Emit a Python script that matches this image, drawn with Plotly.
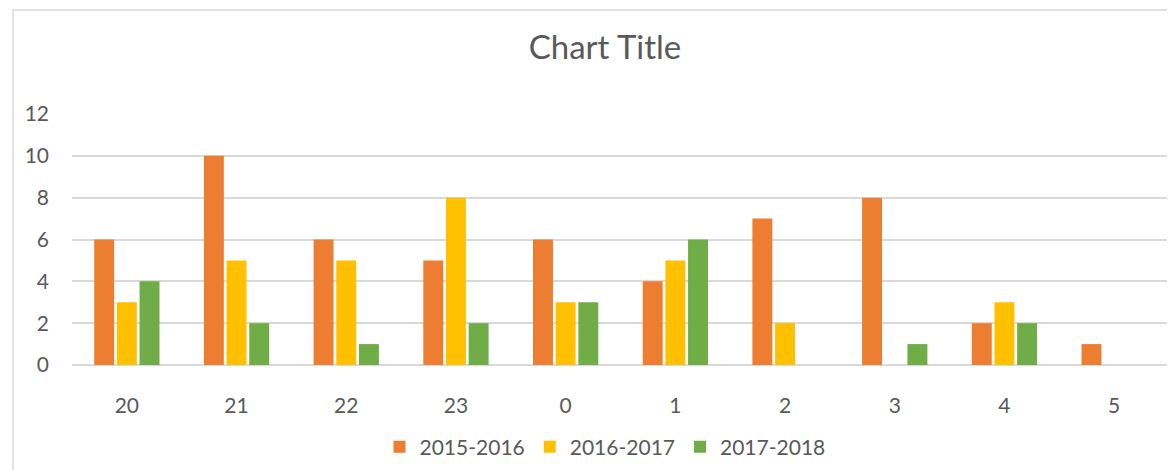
import plotly.graph_objects as go

categories = ["20", "21", "22", "23", "0", "1", "2", "3", "4", "5"]
s2015 = [6, 10, 6, 5, 6, 4, 7, 8, 2, 1]
s2016 = [3, 5, 5, 8, 3, 5, 2, 0, 3, 0]
s2017 = [4, 2, 1, 2, 3, 6, 0, 1, 2, 0]
series_names = ["2015-2016", "2016-2017", "2017-2018"]
colors = ["#ED7D31", "#FFC000", "#70AD47"]
y_ticks = [0, 2, 4, 6, 8, 10, 12]

FONT = "Lato, 'Open Sans', sans-serif"
TXT = "#595959"

fig = go.Figure()
for name, vals, col in zip(series_names, [s2015, s2016, s2017], colors):
    fig.add_trace(go.Bar(x=categories, y=vals, name=name, marker_color=col,
                         marker_line_width=0))

# page body has an 8px margin; size the figure to fill the rest of the window
OFF = 8
W, H = 1175 - OFF, 470 - OFF
l, r, t, b = 72 - OFF, 6, 114 - OFF, 105
pw = W - l - r
ph = H - t - b

fig.update_layout(
    width=W, height=H,
    margin=dict(l=l, r=r, t=t, b=b),
    paper_bgcolor="white", plot_bgcolor="white",
    barmode="group", bargap=0.38, bargroupgap=0.12,
    font=dict(family=FONT, size=21, color=TXT),
    title=dict(text="Chart Title", x=(605 - OFF) / W, xref="container", xanchor="center",
               y=1 - (47 - OFF) / H, yref="container", yanchor="middle",
               font=dict(size=33, color=TXT, family=FONT)),
    legend=dict(orientation="h", xref="container", yref="container",
                x=(605 - OFF) / W, xanchor="center", y=1 - (447 - OFF) / H, yanchor="middle",
                font=dict(size=21, color=TXT), itemwidth=30, traceorder="normal"),
    showlegend=True,
    xaxis=dict(type="category", showgrid=False, showline=False, ticks="",
               ticklabelstandoff=26, tickfont=dict(size=21, color=TXT)),
    yaxis=dict(range=[0, 12], tickvals=y_ticks, showgrid=True, gridcolor="#d9d9d9",
               gridwidth=1.5, zeroline=True, zerolinecolor="#d9d9d9", zerolinewidth=1.5,
               showline=False, ticks="", ticklabelstandoff=22,
               tickfont=dict(size=21, color=TXT)),
    shapes=[dict(type="rect", xref="paper", yref="paper",
                 x0=(13 - 72) / pw, x1=1.2,
                 y0=-1, y1=(H - b - (10 - OFF)) / ph,
                 line=dict(color="#d9d9d9", width=1.5), fillcolor="rgba(0,0,0,0)",
                 layer="below")],
)

fig.write_html("out.html")
